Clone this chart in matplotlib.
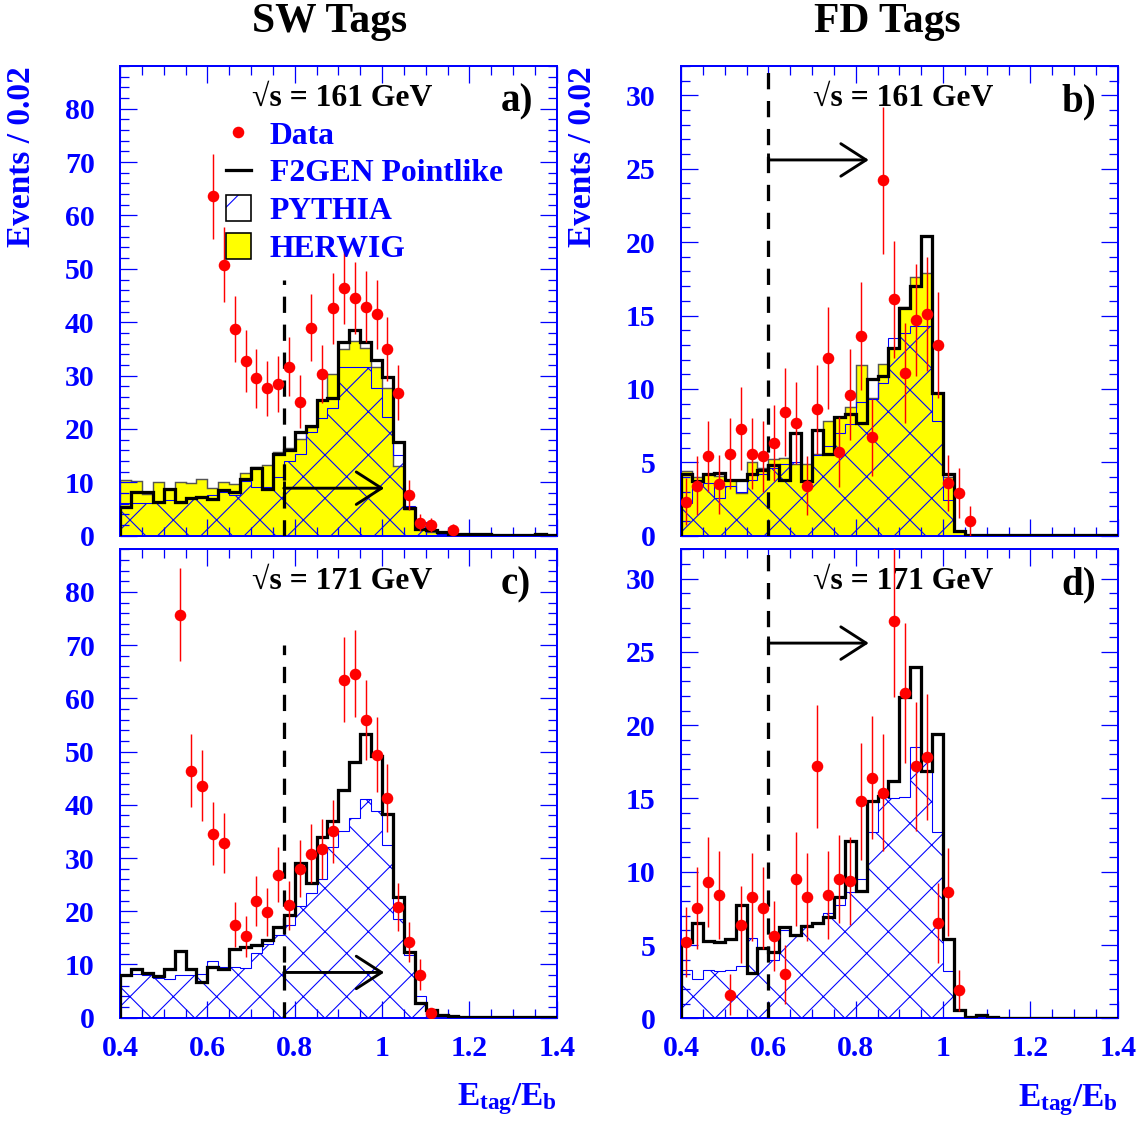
#!/usr/bin/env python3
# -*- coding: utf-8 -*-
"""
E_tag/E_b distributions for SW and FD tags at 161 and 171 GeV.
"""

import numpy as np
import matplotlib
matplotlib.use('Agg')
import matplotlib.pyplot as plt
from matplotlib.lines import Line2D
from matplotlib.patches import Patch
from matplotlib.legend_handler import HandlerTuple
from matplotlib.ticker import MultipleLocator, FuncFormatter

# ---- data (40 bins of 0.025 from 0.4 to 1.4) ----
bin_edges = np.linspace(0.4, 1.4, 41)

# a) SW tags, 161 GeV
f2gen_a = [5.3, 8.1, 8.1, 6.4, 8.7, 6.4, 7.0, 7.3, 6.9, 8.6,
           8.2, 10.7, 12.6, 8.8, 15.4, 16.0, 19.4, 20.6, 25.4, 25.8,
           36.2, 38.6, 36.2, 33.0, 29.7, 17.5, 5.1, 1.3, 1.1, 0.6,
           0.3, 0.3, 0.3, 0.4, 0.2, 0.2, 0.2, 0.2, 0.4, 0.2]
pythia_a = [6.1, 6.1, 6.1, 6.3, 6.6, 6.2, 7.0, 7.2, 7.6, 8.2,
            7.6, 10.3, 9.2, 9.2, 11.0, 14.0, 15.4, 19.5, 22.0, 24.0,
            31.7, 31.7, 31.7, 27.7, 22.2, 15.1, 5.5, 2.6, 0.8, 0.3,
            0.1, 0.1, 0.1, 0.1, 0.1, 0.1, 0.1, 0.1, 0.1, 0.1]
herwig_a = [10.4, 10.2, 7.9, 10.0, 8.8, 10.0, 9.8, 10.6, 8.9, 10.0,
            9.6, 11.7, 12.8, 13.3, 15.7, 16.5, 18.2, 20.3, 25.5, 30.3,
            35.0, 36.4, 35.1, 31.7, 27.6, 13.0, 5.0, 1.8, 0.7, 0.3,
            0.1, 0.1, 0.1, 0.1, 0.1, 0.1, 0.1, 0.1, 0.1, 0.1]
data_a_bins = [8, 9, 10, 11, 12, 13, 14, 15, 16, 17, 18, 19, 20, 21, 22,
               23, 24, 25, 26, 27, 28, 30]
data_a = [63.6, 50.8, 38.7, 32.8, 29.5, 27.6, 28.4, 31.7, 25.1, 39.0, 30.3,
          42.6, 46.5, 44.5, 42.9, 41.5, 35.0, 26.8, 7.6, 2.4, 2.0, 1.1]
err_a = [8.0, 7.0, 6.2, 5.8, 5.5, 5.2, 5.3, 5.6, 5.0, 6.3, 5.5,
         6.6, 6.8, 6.7, 6.6, 6.5, 6.0, 5.2, 2.8, 1.6, 1.4, 1.0]

# b) FD tags, 161 GeV
f2gen_b = [4.2, 3.7, 4.2, 4.3, 3.8, 3.8, 4.2, 4.5, 4.8, 3.8,
           7.0, 3.7, 7.2, 5.6, 8.1, 8.3, 7.7, 10.7, 10.9, 12.8,
           15.5, 17.0, 20.4, 9.75, 4.2, 0.3, 0.05, 0.05, 0.05, 0.05,
           0.05, 0.05, 0.05, 0.05, 0.05, 0.05, 0.05, 0.05, 0.05, 0.05]
pythia_b = [2.2, 3.4, 3.6, 2.6, 3.4, 3.0, 3.8, 4.2, 4.6, 4.9,
            5.0, 3.7, 5.5, 6.1, 7.0, 7.6, 9.1, 9.3, 10.4, 13.5,
            13.8, 14.3, 14.3, 7.8, 2.4, 0.3, 0.05, 0.05, 0.05, 0.05,
            0.05, 0.05, 0.05, 0.05, 0.05, 0.05, 0.05, 0.05, 0.05, 0.05]
herwig_b = [4.4, 4.0, 4.2, 4.1, 3.8, 2.9, 5.0, 4.6, 5.2, 5.3,
            4.9, 4.9, 5.6, 7.8, 8.1, 8.8, 11.6, 9.4, 11.7, 12.8,
            15.6, 17.6, 17.9, 9.75, 4.0, 0.3, 0.05, 0.05, 0.05, 0.05,
            0.05, 0.05, 0.05, 0.05, 0.05, 0.05, 0.05, 0.05, 0.05, 0.05]
data_b_bins = list(range(0, 27))
data_b = [2.3, 3.4, 5.4, 3.5, 5.6, 7.3, 5.6, 5.4, 6.3, 8.4, 7.7, 3.4, 8.6,
          12.1, 5.7, 9.6, 13.6, 6.7, 24.2, 16.1, 11.1, 14.7, 15.1, 13.0,
          3.6, 2.9, 1.0]
err_b = [1.6, 2.0, 2.4, 2.0, 2.4, 2.8, 2.4, 2.4, 2.6, 3.0, 2.8, 2.0, 3.0,
         3.5, 2.4, 3.1, 3.7, 2.6, 5.0, 4.0, 3.4, 3.8, 3.9, 3.6, 1.9, 1.7,
         1.0]

# c) SW tags, 171 GeV
f2gen_c = [8.0, 9.1, 8.4, 7.8, 9.1, 12.6, 9.1, 6.8, 9.6, 9.1,
           13.0, 13.2, 13.6, 14.6, 17.1, 19.3, 29.1, 25.3, 33.9, 36.9,
           42.7, 48.1, 53.3, 49.1, 38.2, 22.7, 12.3, 2.7, 1.4, 0.5,
           0.3, 0.1, 0.1, 0.1, 0.1, 0.1, 0.1, 0.1, 0.1, 0.1]
pythia_c = [8.0, 8.3, 8.0, 7.4, 7.2, 8.0, 8.0, 8.3, 10.7, 9.6,
            9.6, 9.3, 12.1, 13.8, 15.5, 17.5, 21.0, 23.5, 26.0, 32.0,
            35.0, 37.5, 41.0, 38.8, 32.4, 18.6, 11.8, 4.1, 1.4, 0.5,
            0.2, 0.1, 0.1, 0.1, 0.1, 0.1, 0.1, 0.1, 0.1, 0.1]
data_c_bins = list(range(5, 29))
data_c = [75.7, 46.4, 43.6, 34.6, 32.8, 17.5, 15.3, 21.9, 19.9, 26.9, 21.1,
          28.0, 30.8, 31.75, 35.0, 63.5, 64.6, 56.0, 49.4, 41.25, 20.8,
          14.25, 8.1, 0.8]
err_c = [8.7, 6.9, 6.6, 5.9, 5.7, 4.2, 3.9, 4.7, 4.5, 5.2, 4.6,
         5.3, 5.5, 5.6, 5.9, 8.0, 8.2, 7.5, 7.0, 6.4, 4.6, 3.8, 2.9, 0.8]

# d) FD tags, 171 GeV
f2gen_d = [5.2, 6.5, 5.3, 5.2, 5.4, 7.7, 3.1, 4.8, 4.5, 6.2,
           5.7, 6.3, 6.5, 6.9, 8.3, 12.1, 8.7, 14.8, 15.2, 16.2,
           21.9, 24.0, 16.9, 19.4, 5.4, 0.6, 0.07, 0.2, 0.07, 0.05,
           0.05, 0.05, 0.05, 0.05, 0.05, 0.05, 0.05, 0.05, 0.05, 0.05]
pythia_d = [3.3, 2.7, 3.3, 3.2, 3.3, 3.6, 5.5, 4.8, 4.0, 6.0,
            5.7, 6.4, 6.5, 7.2, 7.7, 8.6, 9.5, 12.7, 15.2, 15.0,
            15.1, 18.5, 18.0, 12.7, 3.2, 0.6, 0.07, 0.05, 0.05, 0.05,
            0.05, 0.05, 0.05, 0.05, 0.05, 0.05, 0.05, 0.05, 0.05, 0.05]
data_d_bins = list(range(0, 26))
data_d = [5.2, 7.5, 9.3, 8.4, 1.6, 6.4, 8.3, 7.5, 5.6, 3.0, 9.5, 8.3, 17.2,
          8.4, 9.5, 9.4, 14.8, 16.4, 15.4, 27.1, 22.2, 17.2, 17.8, 6.5,
          8.6, 1.9]
err_d = [2.4, 2.8, 3.1, 3.0, 1.4, 2.6, 3.0, 2.8, 2.4, 2.0, 3.2, 3.0, 4.2,
         3.0, 3.0, 3.0, 4.0, 4.2, 4.0, 5.2, 4.8, 4.4, 4.3, 2.7, 3.0, 1.4]

# tag cuts: (cut position, top of dashed line, arrow height)
cut_a = (0.775, 48.0, 8.9)
cut_b = (0.6, 32.0, 25.6)
cut_c = (0.775, 70.0, 8.5)
cut_d = (0.6, 32.0, 25.6)

BLUE = '#0000ff'
W, H, DPI = 1142, 1122, 130

plt.rcParams['font.family'] = ['Liberation Serif', 'DejaVu Serif']
plt.rcParams['font.weight'] = 'bold'
plt.rcParams['axes.labelweight'] = 'bold'
plt.rcParams['mathtext.fontset'] = 'custom'
plt.rcParams['mathtext.rm'] = 'Liberation Serif:bold'
plt.rcParams['mathtext.it'] = 'Liberation Serif:bold'
plt.rcParams['mathtext.bf'] = 'Liberation Serif:bold'
plt.rcParams['hatch.linewidth'] = 0.6


def px_rect(left, top, right, bottom):
    return [left / W, 1 - bottom / H, (right - left) / W, (bottom - top) / H]


def draw_panel(ax, f2gen, pythia, herwig, bins, data, err, cut, ymax,
               ystep, yminor, energy, tag, xlabels):
    centres = 0.5 * (bin_edges[:-1] + bin_edges[1:])
    if herwig is not None:
        ax.stairs(herwig, bin_edges, fill=True, facecolor='#ffff00',
                  edgecolor='#555555', lw=0.8, zorder=1)
    ax.stairs(pythia, bin_edges, fill=True, facecolor='none',
              edgecolor=BLUE, hatch='x', lw=0.6, zorder=2)
    ax.stairs(f2gen, bin_edges, color='black', lw=1.8, zorder=3)

    xcut, ytop, yarrow = cut
    ax.vlines(xcut, 0, ytop, colors='black', lw=1.8,
              linestyles=(0, (5.0, 3.6)), zorder=4)
    ax.annotate('', xy=(xcut + 0.23, yarrow), xytext=(xcut, yarrow),
                arrowprops=dict(arrowstyle='->,head_length=1.4,head_width=0.9',
                                lw=1.6, color='black',
                                shrinkA=0, shrinkB=0), zorder=4)
    ax.plot([xcut], [yarrow], marker='|', ms=7.5, mew=1.6, color='black',
            zorder=4)

    ax.errorbar(centres[bins], data, yerr=err, fmt='o', color='red',
                ms=5.4, elinewidth=0.8, capsize=0, zorder=5)

    ax.set_xlim(0.4, 1.4)
    ax.set_ylim(0, ymax)
    ax.xaxis.set_major_locator(MultipleLocator(0.2))
    ax.xaxis.set_minor_locator(MultipleLocator(0.05))
    ax.yaxis.set_major_locator(MultipleLocator(ystep))
    ax.yaxis.set_minor_locator(MultipleLocator(yminor))
    ax.xaxis.set_major_formatter(FuncFormatter(lambda v, p: '%g' % v))
    ax.tick_params(which='both', direction='in', top=True, right=True,
                   color=BLUE, labelcolor=BLUE, width=0.7)
    ax.tick_params(which='major', length=9.5, labelsize=16.5)
    ax.tick_params(which='minor', length=5)
    ax.tick_params(axis='y', pad=14)
    ax.tick_params(axis='x', pad=9.5, labelbottom=xlabels)
    for spine in ax.spines.values():
        spine.set_color(BLUE)
        spine.set_linewidth(1.1)

    ax.text(0.508, 0.932, '\u221as = %s GeV' % energy,
            transform=ax.transAxes, ha='center', va='center',
            fontsize=17.5, color='black')
    ax.text(0.872, 0.924, tag, transform=ax.transAxes, ha='left',
            va='center', fontsize=21.5, color='black')
    if xlabels:
        ax.set_xlabel(r'$E_{tag}/E_{b}$', color=BLUE, fontsize=18.5)
        ax.xaxis.set_label_coords(1.0, -0.135)
        ax.xaxis.label.set_horizontalalignment('right')
        ax.xaxis.label.set_verticalalignment('top')


def main():
    fig = plt.figure(figsize=(W / DPI, H / DPI), dpi=DPI)
    ax_a = fig.add_axes(px_rect(120, 66, 556.7, 535.7))
    ax_b = fig.add_axes(px_rect(681, 66, 1117.7, 535.7))
    ax_c = fig.add_axes(px_rect(120, 549.3, 556.7, 1017.7))
    ax_d = fig.add_axes(px_rect(681, 549.3, 1117.7, 1018.3))

    draw_panel(ax_a, f2gen_a, pythia_a, herwig_a, data_a_bins, data_a, err_a,
               cut_a, 88, 10, 2, '161', 'a)', False)
    draw_panel(ax_b, f2gen_b, pythia_b, herwig_b, data_b_bins, data_b, err_b,
               cut_b, 32, 5, 1, '161', 'b)', False)
    draw_panel(ax_c, f2gen_c, pythia_c, None, data_c_bins, data_c, err_c,
               cut_c, 88, 10, 2, '171', 'c)', True)
    draw_panel(ax_d, f2gen_d, pythia_d, None, data_d_bins, data_d, err_d,
               cut_d, 32, 5, 1, '171', 'd)', True)

    for ax in (ax_a, ax_b):
        ax.set_ylabel('Events / 0.02', color=BLUE, fontsize=18.5,
                      fontweight='bold')
        ax.yaxis.set_label_coords(-0.19, 1.0)
        ax.yaxis.label.set_horizontalalignment('right')

    handles = [
        Line2D([], [], marker='o', color='red', ls='none', ms=5.4),
        Line2D([], [], color='black', lw=1.8),
        (Patch(facecolor='white', edgecolor=BLUE, hatch='/', lw=0),
         Patch(facecolor='none', edgecolor='black', lw=0.9)),
        Patch(facecolor='#ffff00', edgecolor='black', lw=0.9),
    ]
    labels = ['Data', 'F2GEN Pointlike', 'PYTHIA', 'HERWIG']
    ax_a.legend(handles, labels, loc='upper left',
                bbox_to_anchor=(0.2427, 0.885), frameon=False,
                fontsize=17.5, labelcolor=BLUE, borderpad=0,
                borderaxespad=0, handlelength=0.78, handleheight=0.89,
                handletextpad=0.61, labelspacing=0.21,
                handler_map={tuple: HandlerTuple(ndivide=1, pad=0)})

    fig.text(330 / W, 1 - 22 / H, 'SW Tags', ha='center', va='center',
             fontsize=23, color='black')
    fig.text(887 / W, 1 - 22 / H, 'FD Tags', ha='center', va='center',
             fontsize=23, color='black')

    fig.savefig('out.png', dpi=DPI)
    plt.close(fig)


if __name__ == '__main__':
    main()
